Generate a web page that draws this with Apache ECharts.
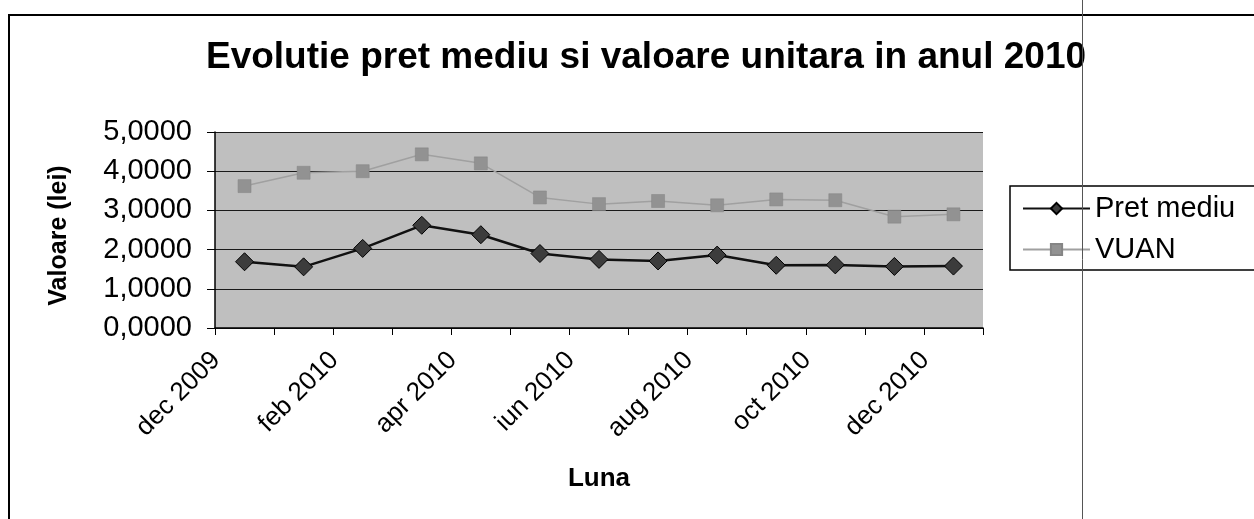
<!DOCTYPE html>
<html>
<head>
<meta charset="utf-8">
<script src="https://cdn.jsdelivr.net/npm/echarts@6/dist/echarts.min.js"></script>
<style>html,body{margin:0;padding:0;background:#fff;}#c{width:1254px;height:519px;}</style>
</head>
<body>
<div id="c"></div>
<script>
const categories = ['dec 2009','ian 2010','feb 2010','mar 2010','apr 2010','mai 2010','iun 2010','iul 2010','aug 2010','sep 2010','oct 2010','nov 2010','dec 2010'];
const pretMediu = [1.69, 1.56, 2.03, 2.62, 2.38, 1.90, 1.75, 1.71, 1.86, 1.60, 1.61, 1.57, 1.58];
const vuan = [3.62, 3.96, 4.00, 4.43, 4.20, 3.33, 3.16, 3.24, 3.13, 3.28, 3.26, 2.84, 2.90];
const yTickLabels = ['0,0000','1,0000','2,0000','3,0000','4,0000','5,0000'];

const chart = echarts.init(document.getElementById('c'), null, {renderer: 'canvas'});
const font = 'Liberation Sans, Arial, sans-serif';
chart.setOption({
  animation: false,
  backgroundColor: '#fff',
  textStyle: {fontFamily: font},
  title: {
    text: 'Evolutie pret mediu si valoare unitara in anul 2010',
    left: 641, top: 34, textAlign: 'center',
    textStyle: {fontFamily: font, fontSize: 37, fontWeight: 'bold', color: '#000'}
  },
  graphic: [
    {type: 'rect', shape: {x: 9, y: 15, width: 1400, height: 700}, style: {fill: 'none', stroke: '#000', lineWidth: 2}, silent: true},
    {type: 'line', shape: {x1: 1082.5, y1: 0, x2: 1082.5, y2: 519}, style: {stroke: '#555', lineWidth: 1}, silent: true, z: 100}
  ],
  legend: {
    orient: 'vertical',
    left: 1010, top: 186,
    padding: [8, 60, 6, 12],
    itemWidth: 67, itemHeight: 14, itemGap: 12,
    borderColor: '#000', borderWidth: 1.5,
    backgroundColor: '#fff',
    textStyle: {fontFamily: font, fontSize: 29, color: '#000', lineHeight: 28},
    data: ['Pret mediu', 'VUAN']
  },
  grid: {
    left: 215, right: 271, top: 132, bottom: 191,
    show: true, backgroundColor: '#bfbfbf', borderWidth: 0
  },
  xAxis: {
    type: 'category',
    data: categories,
    boundaryGap: true,
    axisLine: {lineStyle: {color: '#000', width: 1.5}},
    axisTick: {show: true, length: 7, interval: 0, lineStyle: {color: '#000'}},
    axisLabel: {
      interval: 1, rotate: 45, margin: 0, padding: [0, 40, 0, 0],
      fontFamily: font, fontSize: 26, color: '#000'
    },
    name: 'Luna', nameLocation: 'middle', nameGap: 138,
    nameTextStyle: {fontFamily: font, fontSize: 26, fontWeight: 'bold', color: '#000'}
  },
  yAxis: {
    type: 'value', min: 0, max: 5, interval: 1,
    axisLine: {show: true, lineStyle: {color: '#000', width: 1.5}},
    axisTick: {show: true, length: 8, lineStyle: {color: '#000'}},
    splitLine: {lineStyle: {color: '#1a1a1a', width: 1.2}},
    axisLabel: {
      margin: 23, fontFamily: font, fontSize: 29, color: '#000',
      formatter: v => yTickLabels[Math.round(v)]
    },
    name: 'Valoare (lei)', nameLocation: 'middle', nameGap: 143,
    nameTextStyle: {fontFamily: font, fontSize: 25, fontWeight: 'bold', color: '#000', padding: [0, 11, 0, 0]}
  },
  series: [
    {
      name: 'Pret mediu', type: 'line', data: pretMediu,
      symbol: 'diamond', symbolSize: 18,
      lineStyle: {color: '#111', width: 2.5},
      itemStyle: {color: '#3c3c3c', borderColor: '#000', borderWidth: 1},
      z: 3
    },
    {
      name: 'VUAN', type: 'line', data: vuan,
      symbol: 'rect', symbolSize: 13,
      lineStyle: {color: '#a0a0a0', width: 1.5},
      itemStyle: {color: '#929292', borderColor: '#858585', borderWidth: 0.5},
      z: 2
    }
  ]
});
</script>
</body>
</html>
